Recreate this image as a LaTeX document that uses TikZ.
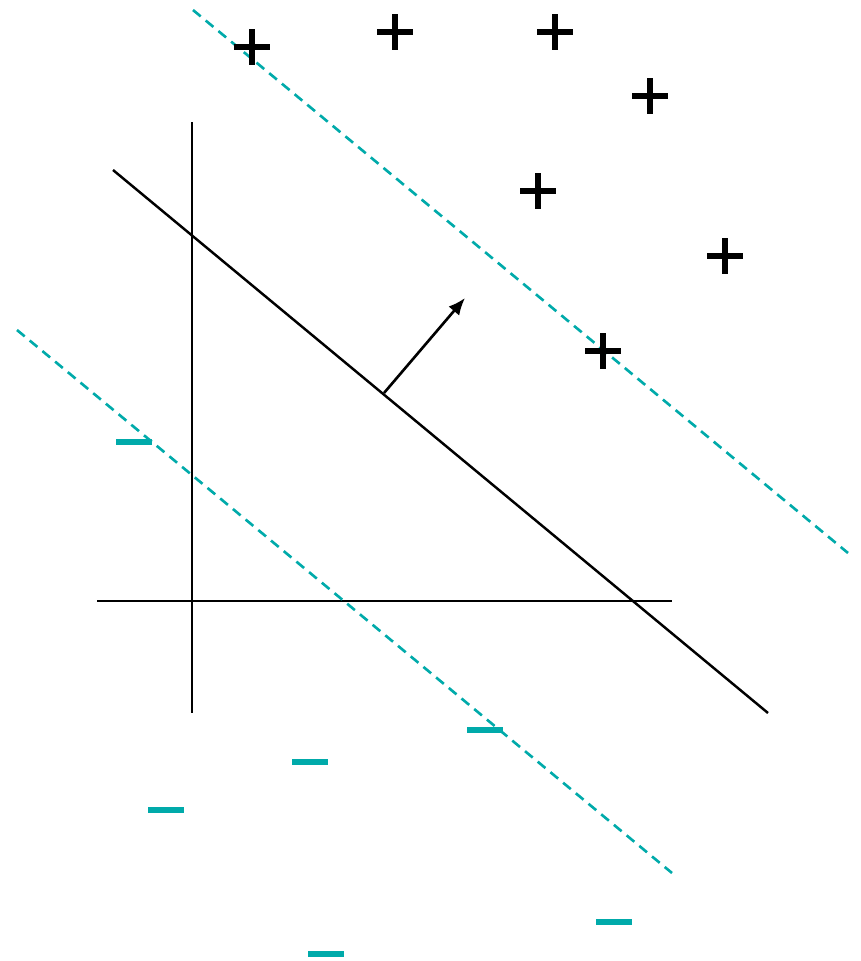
\documentclass[tikz,border=0pt]{standalone}
\usetikzlibrary{arrows.meta}
\definecolor{sep}{HTML}{00AAAA}
\tikzset{
  axis/.style={line width=1.4pt},
  hyper/.style={line width=1.4pt},
  margin/.style={draw=sep, dash pattern=on 0.2cm off 0.13cm, line width=1.5pt},
  plusmark/.style={line width=3.3pt},
  minusmark/.style={draw=sep, line width=3.2pt},
  normal/.style={-{Latex[length=0.34cm,width=0.28cm]}, line width=1.5pt}
}
\begin{document}
\begin{tikzpicture}[x=0.02cm,y=-0.02cm]
  \useasboundingbox (0,0) rectangle (861,961);
  % axes
  \coordinate (ytop) at (192,122);
  \coordinate (ybot) at (192,713);
  \coordinate (xleft) at (97,601);
  \coordinate (xright) at (672,601);
  \draw[axis] (ytop) -- (ybot);
  \draw[axis] (xleft) -- (xright);
  % separating line and margins
  \coordinate (hstart) at (113,170);
  \coordinate (hend) at (768,713);
  \coordinate (upstart) at (193,10);
  \coordinate (upend) at (848,553);
  \coordinate (lowstart) at (17,330);
  \coordinate (lowend) at (672,873);
  \draw[hyper] (hstart) -- (hend);
  \draw[margin] (upstart) -- (upend);
  \draw[margin] (lowstart) -- (lowend);
  % normal vector
  \coordinate (foot) at (384,393);
  \coordinate (tip) at (465,298);
  \draw[normal] (foot) -- (tip);
  % positive samples
  \foreach \px/\py in {252/47, 395/32, 555/32, 650/96, 538/191, 725/256, 603/351}
    \draw[plusmark] (\px-18,\py) -- (\px+18,\py) (\px,\py-18) -- (\px,\py+18);
  % negative samples
  \foreach \mx/\my in {134/442, 310/762, 485/730, 166/810, 614/922, 326/954}
    \draw[minusmark] (\mx-18,\my) -- (\mx+18,\my);
\end{tikzpicture}
\end{document}
